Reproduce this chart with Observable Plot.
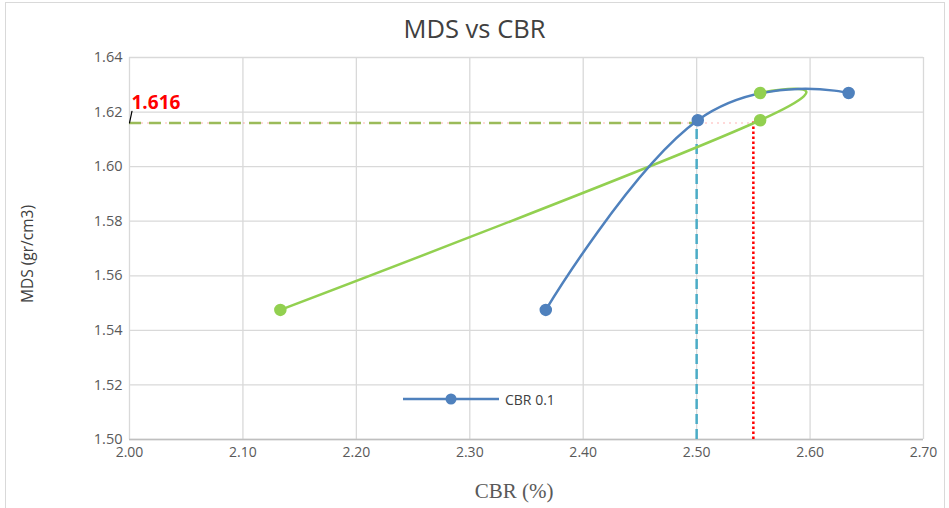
<!DOCTYPE html>
<html><head><meta charset="utf-8">
<script src="https://cdn.jsdelivr.net/npm/d3@7"></script>
<script src="https://cdn.jsdelivr.net/npm/@observablehq/plot@0.6"></script>
<style>
body{margin:0;background:#fff;}
#wrap{position:relative;width:949px;height:508px;overflow:hidden;}
#frame{position:absolute;left:5px;top:2px;width:940px;height:520px;border:1px solid #d9d9d9;box-sizing:border-box;}
.t{position:absolute;white-space:nowrap;}
</style></head>
<body>
<div id="wrap">
<div id="frame"></div>
<div id="chart"></div>
<div class="t" style="left:0;width:949px;top:11px;text-align:center;font:25.5px 'Open Sans',sans-serif;color:#404040;">MDS vs CBR</div>
<div class="t" style="left:27px;top:254px;transform:translate(-50%,-50%) rotate(-90deg);font:15.5px 'Open Sans',sans-serif;color:#404040;">MDS (gr/cm3)</div>
<div class="t" style="left:0;width:1028px;top:479px;text-align:center;font:21px 'Liberation Serif',serif;color:#595959;">CBR (%)</div>
<div class="t" id="legend" style="left:403px;top:388px;font:14px 'Open Sans',sans-serif;color:#404040;"></div>
</div>
<script>
const cbrBlue = [2.367, 2.501, 2.634];
const mdsBlue = [1.5475, 1.617, 1.627];
const cbrGreen = [2.133, 2.556, 2.556];
const mdsGreen = [1.5475, 1.617, 1.627];
const mdsTarget = 1.616;
const cbrAtTarget = [2.50, 2.55];
const xTicks = [2.0, 2.1, 2.2, 2.3, 2.4, 2.5, 2.6, 2.7];
const yTicks = [1.50, 1.52, 1.54, 1.56, 1.58, 1.60, 1.62, 1.64];
const seriesName = "CBR 0.1";

const blue = "#4f81bd", green = "#92d050";
const blueData = cbrBlue.map((x,i)=>({x, y: mdsBlue[i]}));
const greenData = cbrGreen.map((x,i)=>({x, y: mdsGreen[i]}));

const plot = Plot.plot({
  width: 949, height: 508,
  marginLeft: 129, marginRight: 26, marginTop: 57, marginBottom: 69,
  style: {fontFamily: "'Open Sans', sans-serif", fontSize: "14px", color: "#595959", background: "transparent"},
  x: {domain: [2.0, 2.7], ticks: xTicks, tickFormat: d3.format(".2f"), label: null},
  y: {domain: [1.50, 1.64], ticks: yTicks, tickFormat: d3.format(".2f"), label: null},
  marks: [
    Plot.gridX(xTicks, {stroke: "#d9d9d9", strokeOpacity: 1, strokeWidth: 1.3}),
    Plot.gridY(yTicks, {stroke: "#d9d9d9", strokeOpacity: 1, strokeWidth: 1.3}),
    Plot.ruleY([1.50], {stroke: "#bfbfbf", strokeWidth: 1.3}),
    Plot.axisX(xTicks, {tickSize: 0, tickPadding: 8, fill: "#595959", fontSize: 14}),
    Plot.axisY(yTicks, {tickSize: 0, tickPadding: 7, fill: "#595959", fontSize: 14.5}),
    Plot.ruleY([mdsTarget], {x1: 2.0, x2: cbrAtTarget[1], stroke: "#ff0000", strokeOpacity: 0.15, strokeWidth: 2, strokeDasharray: "2 4"}),
    Plot.ruleY([mdsTarget], {x1: 2.0, x2: cbrAtTarget[0], stroke: "#9bbb59", strokeWidth: 2.5, strokeDasharray: "12 8"}),
    Plot.ruleX([cbrAtTarget[0]], {y1: 1.50, y2: mdsBlue[1], stroke: "#4bacc6", strokeWidth: 2.5, strokeDasharray: "10 5"}),
    Plot.ruleX([cbrAtTarget[1]], {y1: 1.50, y2: mdsGreen[1], stroke: "#ff0000", strokeWidth: 2.5, strokeDasharray: "2.5 2.5"}),
    Plot.line(greenData, {x: "x", y: "y", stroke: green, strokeWidth: 2.5, curve: "cardinal", tension: -0.3}),
    Plot.line(blueData, {x: "x", y: "y", stroke: blue, strokeWidth: 2.5, curve: "cardinal", tension: -0.3}),
    Plot.dot(greenData, {x: "x", y: "y", r: 5.5, fill: green, stroke: green}),
    Plot.dot(blueData, {x: "x", y: "y", r: 5.5, fill: blue, stroke: blue}),
    Plot.text([mdsTarget], {x: () => 2.0, y: d => d, text: d => d3.format(".3f")(d), dx: 2, dy: -20, textAnchor: "start", fill: "#ff0000", fontWeight: "bold", fontSize: 19, fontFamily: "'Open Sans', sans-serif"}),
    Plot.vector([mdsTarget], {x: () => 2.0, y: d => d, length: 12, rotate: 12, anchor: "start", shape: {draw(ctx, l){ctx.moveTo(0,0); ctx.lineTo(0,-l);}}, stroke: "#000", strokeWidth: 1.2})
  ]
});
document.getElementById("chart").appendChild(plot);

const lg = document.getElementById("legend");
lg.innerHTML = `<svg width="96" height="20" style="vertical-align:middle"><line x1="0" y1="10" x2="96" y2="10" stroke="${blue}" stroke-width="2.5"/><circle cx="48" cy="10" r="5.5" fill="${blue}"/></svg><span style="margin-left:6px;vertical-align:middle">${seriesName}</span>`;
</script>
</body></html>
